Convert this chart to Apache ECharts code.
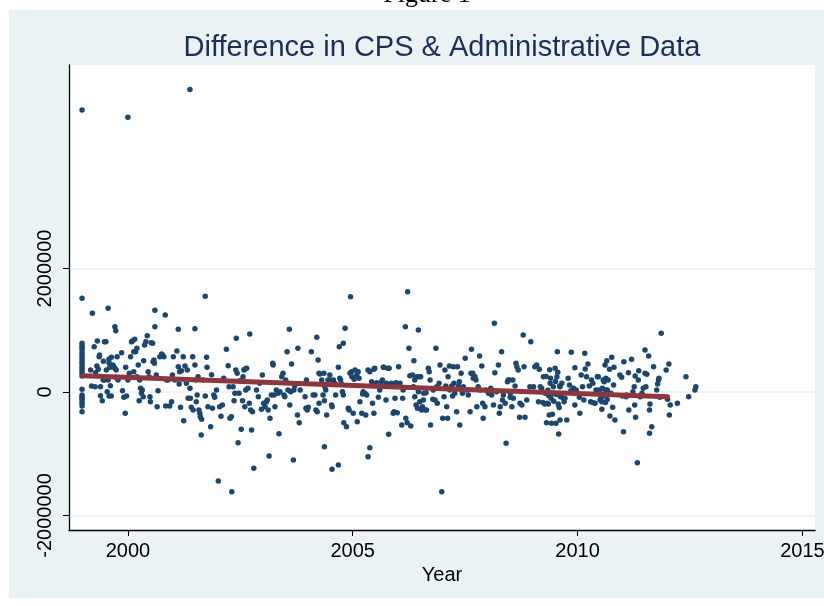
<!DOCTYPE html>
<html>
<head>
<meta charset="utf-8">
<script src="https://cdn.jsdelivr.net/npm/echarts@6/dist/echarts.min.js"></script>
<style>
html,body{margin:0;padding:0;background:#ffffff;}
#wrap{position:relative;width:824px;height:606px;overflow:hidden;background:#ffffff;}
#bg{position:absolute;left:9px;top:10px;width:830px;height:588px;background:#eaf2f3;}
#c{position:absolute;left:0;top:0;width:824px;height:606px;}
</style>
</head>
<body>
<div id="wrap"><div id="bg"></div><div id="c"></div></div>
<script>
// ---- data (year, CPS minus administrative difference) ----
const xTicks = [2000, 2005, 2010, 2015];
const yTicks = [-2000000, 0, 2000000];

const ptsTop = [[1998.98,4567e3],[2000.00,4449e3],[2001.38,4900e3]];

const col1999Year = 1998.98;
const col1999Values = [1517e3,788e3,750e3,718e3,680e3,626e3,583e3,540e3,502e3,464e3,421e3,383e3,345e3,302e3,259e3,43e3,-49e3,-76e3,-103e3,-141e3,-184e3,-227e3,-318e3];

const pts1999to2004 = [
[1999.17,356e3],[1999.19,97e3],[1999.21,1274e3],[1999.25,734e3],[1999.27,86e3],[1999.28,313e3],
[1999.32,826e3],[1999.36,572e3],[1999.37,599e3],[1999.31,421e3],[1999.34,367e3],[1999.39,86e3],[1999.39,-60e3],[1999.43,-141e3],[1999.455,497e3],[1999.48,815e3],[1999.51,815e3],[1999.45,194e3],[1999.48,194e3],[1999.56,1355e3],[1999.58,529e3],[1999.58,475e3],[1999.60,399e3],[1999.52,356e3],[1999.56,194e3],[1999.54,5e3],[1999.58,-65e3],[1999.63,-65e3],[1999.61,103e3],[1999.63,410e3],[1999.66,437e3],[1999.63,561e3],
[1999.71,1058e3],[1999.73,993e3],[1999.68,421e3],[1999.71,383e3],[1999.74,356e3],[1999.76,572e3],[1999.78,194e3],[1999.73,237e3],[1999.86,637e3],[1999.88,21e3],[1999.91,-87e3],[1999.94,-346e3],[1999.95,399e3],[1999.97,-65e3],[2000.06,572e3],[2000.08,815e3],[2000.00,194e3],[2000.03,302e3],
[2000.10,826e3],[2000.13,653e3],[2000.15,853e3],[2000.17,653e3],[2000.20,707e3],[2000.23,437e3],[2000.25,-141e3],[2000.28,59e3],[2000.30,-22e3],[2000.32,32e3],[2000.34,-76e3],[2000.35,507e3],[2000.37,761e3],[2000.40,815e3],[2000.26,194e3],[2000.20,248e3],[2000.13,329e3],
[2000.43,912e3],[2000.45,329e3],[2000.47,248e3],[2000.49,-76e3],[2000.50,-157e3],[2000.52,799e3],[2000.55,788e3],[2000.56,491e3],[2000.58,518e3],[2000.59,464e3],[2000.60,1323e3],[2000.60,1058e3],[2000.63,275e3],[2000.65,-238e3],[2000.67,21e3],[2000.71,572e3],[2000.75,615e3],[2000.77,599e3],[2000.80,572e3],[2000.84,-227e3],
[2000.83,1247e3],[2000.86,194e3],[2000.89,194e3],[2000.93,-227e3],[2000.97,-157e3],[2000.99,275e3],[2001.01,572e3],[2001.04,194e3],[2001.09,664e3],[2001.12,1015e3],[2001.12,410e3],[2001.14,130e3],[2001.15,329e3],
[2001.17,-248e3],[2001.19,345e3],[2001.23,572e3],[2001.24,-464e3],[2001.27,421e3],[2001.30,140e3],[2001.32,356e3],[2001.34,-103e3],[2001.38,59e3],[2001.39,-103e3],[2001.41,-248e3],[2001.44,572e3],[2001.45,-292e3],[2001.49,1026e3],[2001.49,437e3],[2001.51,194e3],[2001.52,-157e3],
[2001.54,-49e3],[2001.56,248e3],[2001.58,-292e3],[2001.60,-346e3],[2001.61,-399e3],[2001.63,-696e3],[2001.64,-443e3],[2001.67,194e3],[2001.72,-65e3],[2001.75,561e3],[2001.76,399e3],[2001.78,-238e3],[2001.72,1549e3],[2001.84,-561e3],[2001.86,281e3],[2001.88,-264e3],[2001.91,-49e3],[2001.93,-87e3],
[2001.97,32e3],[2002.01,-1441e3],[2002.04,-238e3],[2002.07,-394e3],[2002.10,-211e3],[2002.13,221e3],[2002.19,691e3],[2002.23,426e3],[2002.25,86e3],[2002.27,-426e3],[2002.30,-399e3],[2002.31,-1614e3],
[2002.34,86e3],[2002.36,-141e3],[2002.38,-22e3],[2002.40,356e3],[2002.41,869e3],[2002.43,302e3],[2002.45,-820e3],[2002.47,-22e3],[2002.49,184e3],[2002.52,-604e3],[2002.55,-141e3],[2002.56,248e3],[2002.58,356e3],[2002.60,-238e3],[2002.60,367e3],[2002.64,383e3],[2002.62,32e3],
[2002.67,59e3],[2002.70,-184e3],[2002.71,939e3],[2002.73,-292e3],[2002.75,-615e3],[2002.77,-318e3],[2002.80,-1236e3],[2002.86,32e3],[2002.90,-76e3],[2002.93,140e3],[2002.97,-281e3],[2002.99,275e3],
[2003.02,-184e3],[2003.05,-238e3],[2003.08,-157e3],[2003.10,-130e3],[2003.12,-292e3],[2003.14,-1036e3],[2003.16,-426e3],[2003.19,-49e3],[2003.22,464e3],[2003.23,437e3],[2003.25,-49e3],[2003.27,-238e3],[2003.30,32e3],[2003.34,-22e3],[2003.36,-675e3],[2003.38,5e3],
[2003.42,248e3],[2003.45,302e3],[2003.47,-49e3],[2003.49,-76e3],[2003.51,194e3],[2003.54,653e3],[2003.56,32e3],[2003.59,1015e3],[2003.60,-211e3],[2003.62,5e3],[2003.64,453e3],[2003.68,-1101e3],[2003.69,32e3],[2003.71,97e3],[2003.77,-372e3],[2003.78,707e3],[2003.81,-497e3],[2003.83,32e3],
[2003.94,-76e3],[2003.96,-264e3],[2003.97,194e3],[2003.99,-292e3],[2004.01,-248e3],[2004.08,653e3],[2004.12,-49e3],[2004.16,-49e3],[2004.18,-292e3],[2004.20,885e3],[2004.21,-318e3],[2004.23,518e3],[2004.25,-184e3],[2004.25,302e3]
];

const pts2004to2009 = [
[2004.27,291e3],[2004.31,194e3],[2004.36,302e3],[2004.38,86e3],[2004.40,32e3],[2004.37,-141e3],[2004.34,-49e3],[2004.37,-885e3],[2004.42,-372e3],[2004.45,194e3],[2004.49,275e3],[2004.51,194e3],[2004.53,-211e3],[2004.54,-238e3],[2004.54,-1252e3],[2004.57,194e3],[2004.60,140e3],[2004.62,-49e3],
[2004.68,399e3],[2004.70,734e3],[2004.71,221e3],[2004.73,194e3],[2004.75,130e3],[2004.77,5e3],[2004.79,-49e3],[2004.79,788e3],[2004.83,1031e3],[2004.80,-497e3],[2004.86,-561e3],[2004.90,-264e3],[2004.92,-292e3],[2004.94,302e3],[2004.95,1544e3],[2004.97,329e3],[2004.98,248e3],[2005.01,-346e3],[2005.03,205e3],[2004.68,-1182e3],
[2005.05,356e3],[2005.09,275e3],[2005.10,-480e3],[2005.12,329e3],[2005.14,221e3],[2005.16,-157e3],[2005.20,-346e3],[2005.22,-32e3],[2005.23,5e3],[2005.27,-22e3],[2005.29,-372e3],[2005.31,-49e3],[2005.34,-1047e3],[2005.34,356e3],[2005.38,-901e3],[2005.38,329e3],
[2005.42,167e3],[2005.44,-184e3],[2005.47,-346e3],[2005.47,367e3],[2005.49,383e3],[2005.53,151e3],[2005.57,-87e3],[2005.60,32e3],[2005.64,167e3],[2005.66,194e3],[2005.68,399e3],[2005.69,399e3],[2005.74,-130e3],[2005.75,140e3],[2005.80,-686e3],[2005.78,383e3],[2005.81,383e3],
[2005.86,140e3],[2005.90,-346e3],[2005.92,-318e3],[2005.94,-103e3],[2005.96,151e3],[2005.99,-335e3],[2006.02,410e3],[2006.05,140e3],[2006.09,-534e3],[2006.11,-103e3],[2006.12,32e3],
[2006.17,1058e3],[2006.18,-426e3],[2006.21,-497e3],[2006.22,1625e3],[2006.25,707e3],[2006.27,265e3],[2006.29,-550e3],[2006.33,275e3],[2006.35,86e3],[2006.36,507e3],[2006.38,-76e3],[2006.38,194e3],[2006.41,-211e3],[2006.42,248e3],[2006.44,-264e3],[2006.46,1004e3],[2006.46,5e3],[2006.48,248e3],
[2006.49,-157e3],[2006.51,248e3],[2006.53,-292e3],[2006.55,-238e3],[2006.57,-130e3],[2006.58,-22e3],[2006.61,-292e3],[2006.63,-11e3],[2006.64,-292e3],[2006.68,383e3],[2006.70,329e3],[2006.72,194e3],[2006.73,-534e3],[2006.78,-119e3],[2006.79,32e3],[2006.83,-130e3],[2006.85,707e3],[2006.87,86e3],
[2006.88,-184e3],[2006.92,140e3],[2006.94,437e3],[2006.98,-1614e3],[2007.00,-426e3],[2007.03,-76e3],[2007.05,356e3],[2007.07,97e3],[2007.09,-238e3],[2007.11,-426e3],[2007.12,248e3],[2007.15,421e3],[2007.16,32e3],[2007.20,97e3],[2007.22,-65e3],[2007.24,410e3],
[2007.25,140e3],[2007.27,-22e3],[2007.31,-318e3],[2007.33,410e3],[2007.35,97e3],[2007.37,167e3],[2007.38,-534e3],[2007.41,302e3],[2007.44,-22e3],[2007.46,86e3],[2007.50,545e3],[2007.53,32e3],[2007.57,-49e3],[2007.61,-318e3],[2007.63,302e3],
[2007.64,691e3],[2007.67,302e3],[2007.68,221e3],[2007.72,248e3],[2007.74,194e3],[2007.76,-238e3],[2007.79,86e3],[2007.82,583e3],[2007.83,32e3],[2007.87,421e3],[2007.89,-184e3],[2007.90,-426e3],[2007.94,-238e3],[2007.96,32e3],
[2008.02,-22e3],[2008.07,59e3],[2008.09,-49e3],[2008.13,-211e3],[2008.15,1112e3],[2008.16,313e3],[2008.20,5e3],[2008.24,437e3],[2008.26,-346e3],[2008.28,-238e3],[2008.31,653e3],[2008.33,-130e3],[2008.35,-49e3],[2008.41,-831e3],
[2008.39,-184e3],[2008.44,167e3],[2008.46,194e3],[2008.48,194e3],[2008.50,-87e3],[2008.51,-22e3],[2008.54,-238e3],[2008.56,194e3],[2008.57,-103e3],[2008.61,97e3],[2008.63,464e3],[2008.65,410e3],[2008.68,356e3],[2008.71,-410e3],[2008.72,-184e3],
[2008.76,-211e3],[2008.79,923e3],[2008.81,410e3],[2008.83,-410e3],[2008.87,-130e3],[2008.94,86e3],[2008.96,815e3],[2009.02,86e3],[2009.05,410e3],[2009.09,437e3],[2009.13,-157e3],[2009.15,367e3],
[2009.17,86e3],[2009.20,59e3],[2009.24,248e3],[2009.28,-22e3],[2009.31,-497e3],[2009.33,-184e3],[2009.35,-195e3],[2009.37,-372e3],[2009.39,140e3],[2009.40,221e3],[2009.42,-507e3],[2009.45,-22e3],[2009.46,86e3],[2009.50,383e3],[2009.52,-507e3],[2009.54,248e3],[2009.55,653e3],[2009.57,-195e3],[2009.58,-680e3],[2009.60,97e3],
[2009.23,-170e3],[2009.27,-195e3],[2009.30,250e3],[2009.34,30e3],[2009.36,-60e3],[2009.38,360e3],[2009.41,-100e3],[2009.44,-360e3],[2009.47,-150e3],[2009.51,170e3],[2009.53,-40e3],[2009.56,320e3],[2009.59,-250e3]
];

const pts2009to2012 = [
[2009.61,86e3],[2009.62,-76e3],[2009.65,140e3],[2009.68,-103e3],[2009.70,-157e3],[2009.72,-103e3],[2009.61,-453e3],[2009.76,-453e3],[2009.79,221e3],[2009.82,113e3],[2009.85,21e3],[2009.86,642e3],[2009.91,59e3],[2009.94,394e3],[2009.94,-211e3],[2009.97,32e3],
[2010.04,-87e3],[2010.05,-346e3],[2010.08,275e3],[2010.11,86e3],[2010.14,-130e3],[2010.16,626e3],[2010.17,372e3],[2010.20,248e3],[2010.23,453e3],[2010.26,97e3],[2010.29,-157e3],[2010.31,194e3],[2010.34,140e3],[2010.35,-173e3],
[2010.39,-184e3],[2010.41,32e3],[2010.44,248e3],[2010.46,248e3],[2010.48,32e3],[2010.50,-22e3],[2010.52,-103e3],[2010.54,-157e3],[2010.54,-281e3],[2010.57,194e3],[2010.59,167e3],[2010.61,437e3],[2010.62,32e3],[2010.63,221e3],[2010.65,507e3],[2010.66,32e3],[2010.68,194e3],[2010.71,367e3],[2010.72,-389e3],
[2010.50,-130e3],[2010.55,60e3],[2010.58,-60e3],[2010.62,-170e3],[2010.66,-120e3],
[2010.74,-22e3],[2010.76,561e3],[2010.78,-248e3],[2010.80,113e3],[2010.81,399e3],[2010.83,-453e3],[2010.94,275e3],[2010.98,237e3],[2011.00,-65e3],[2011.02,-642e3],[2011.03,491e3],[2011.08,-76e3],[2011.09,-49e3],
[2011.13,313e3],[2011.14,-292e3],[2011.20,529e3],[2011.23,5e3],[2011.26,86e3],[2011.27,-211e3],[2011.28,259e3],[2011.29,-410e3],[2011.33,-1144e3],[2011.35,194e3],[2011.36,345e3],[2011.39,-76e3],[2011.43,-22e3],[2011.46,59e3],[2011.50,680e3],[2011.50,302e3],[2011.52,86e3],
[2011.54,286e3],[2011.58,583e3],[2011.60,-669e3],[2011.60,-292e3],[2011.61,-195e3],[2011.65,-561e3],[2011.69,410e3],[2011.76,32e3],[2011.78,130e3],[2011.80,194e3],[2011.81,221e3],[2011.83,-87e3],[2011.86,950e3],[2011.97,356e3],[2012.00,-119e3],[2012.03,453e3],[2012.04,-372e3],[2012.06,-211e3],
[2012.22,-184e3],[2012.41,248e3],[2012.47,-76e3],[2012.61,32e3],[2012.63,86e3]
];

// fitted linear trend
const fitYears = [1999, 2012];
const fitValues = [265e3, -76e3];

// ---- build ----
const scatterData = []
  .concat(ptsTop)
  .concat(col1999Values.map(v => [col1999Year, v]))
  .concat(pts1999to2004, pts2004to2009, pts2009to2012);
const fitData = fitYears.map((y, i) => [y, fitValues[i]]);

const FONT = '"Liberation Sans", Arial, Helvetica, sans-serif';
const plain = v => String(Math.round(v));
const chart = echarts.init(document.getElementById('c'), null, {renderer: 'canvas'});
chart.setOption({
  animation: false,
  backgroundColor: 'transparent',
  title: {
    text: 'Difference in CPS & Administrative Data',
    left: 437, top: 28, textAlign: 'center',
    textStyle: {fontFamily: FONT, fontSize: 29, fontWeight: 'normal', color: '#1c2e5a'}
  },
  graphic: [{
    type: 'text', x: 427, y: -5, silent: true,
    style: {text: 'Figure 1', font: '26px "Liberation Serif", "Times New Roman", serif', fill: '#000', align: 'center', verticalAlign: 'middle'}
  }],
  grid: {
    left: 69, right: 9, top: 65, bottom: 76,
    show: true, backgroundColor: '#ffffff', borderWidth: 0,
    containLabel: false, outerBoundsMode: 'none'
  },
  xAxis: {
    type: 'value', min: 1998.69, max: 2015.28,
    name: 'Year', nameLocation: 'middle', nameGap: 35,
    nameTextStyle: {fontFamily: FONT, fontSize: 20, color: '#000'},
    axisLine: {show: true, onZero: false, lineStyle: {color: '#000', width: 1.3}},
    axisTick: {show: true, customValues: xTicks, length: 6, lineStyle: {color: '#000', width: 1}},
    axisLabel: {customValues: xTicks, formatter: plain, fontFamily: FONT, fontSize: 20, color: '#000', margin: 11},
    splitLine: {show: false}
  },
  yAxis: {
    type: 'value', min: -2235000, max: 5296000,
    axisLine: {show: true, onZero: false, lineStyle: {color: '#000', width: 1.3}},
    axisTick: {show: true, customValues: yTicks, length: 6, lineStyle: {color: '#000', width: 1}},
    axisLabel: {customValues: yTicks, formatter: plain, rotate: 90, fontFamily: FONT, fontSize: 20, color: '#000', margin: 14},
    splitLine: {show: true, customValues: yTicks, lineStyle: {color: '#eaf2f3', width: 1.6}}
  },
  series: [{
    type: 'scatter', data: scatterData, symbol: 'circle', symbolSize: 5.5,
    itemStyle: {color: '#1a476f', opacity: 1}, z: 2
  }, {
    type: 'line', data: fitData, showSymbol: false, symbol: 'none',
    lineStyle: {color: '#90353b', width: 5, cap: 'round'}, z: 3
  }]
});
</script>
</body>
</html>
